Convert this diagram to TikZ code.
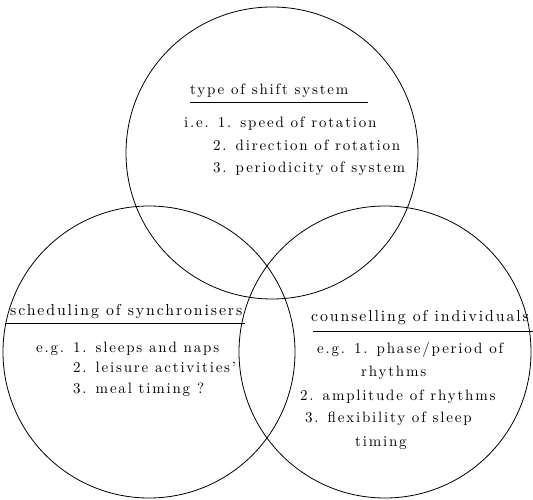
\documentclass[tikz,border=0pt]{standalone}
\usepackage{fontspec}
\setmainfont{lmroman10-regular}[Extension=.otf, LetterSpace=12]
\begin{document}
\begin{tikzpicture}[x=1pt,y=-1pt,
  ring/.style={draw, circle, line width=0.8pt, inner sep=0pt, minimum size=292pt},
  label/.style={anchor=base west, inner sep=0pt, font=\fontsize{15}{18}\selectfont},
  heading/.style={label, font=\fontsize{15.8}{19}\selectfont},
  rule/.style={line width=1pt}]
\useasboundingbox (0,0) rectangle (533,500);
% the three overlapping fields
\node[ring] (shift) at (272,153) {};
\node[ring] (sync)  at (149,352) {};
\node[ring] (indiv) at (385,352) {};

% type of shift system
\node[label] (t0) at (190,95)  {type of shift system};
\coordinate (t0a) at (190,103); \coordinate (t0b) at (368,103);
\draw[rule] (t0a) -- (t0b);
\node[label] (t1) at (184,128) {i.e. 1. speed of rotation};
\node[label] (t2) at (213,151) {2. direction of rotation};
\node[label] (t3) at (213,173) {3. periodicity of system};

% scheduling of synchronisers
\node[heading] (s0) at (10,315)  {scheduling of synchronisers};
\coordinate (s0a) at (5,323); \coordinate (s0b) at (245,323);
\draw[rule] (s0a) -- (s0b);
\node[label] (s1) at (36,352) {e.g. 1. sleeps and naps};
\node[label] (s2) at (73,372) {2. leisure activities'};
\node[label] (s3) at (73,393) {3. meal timing ?};

% counselling of individuals
\node[heading] (c0) at (311,321) {counselling of individuals};
\coordinate (c0a) at (313,331); \coordinate (c0b) at (533,331);
\draw[rule] (c0a) -- (c0b);
\node[label] (c1) at (317,353) {e.g. 1. phase/period of};
\node[label] (c2) at (361,376) {rhythms};
\node[label] (c3) at (300,400) {2. amplitude of rhythms};
\node[label] (c4) at (305,422) {3. flexibility of sleep};
\node[label] (c5) at (355,446) {timing};
\end{tikzpicture}
\end{document}
